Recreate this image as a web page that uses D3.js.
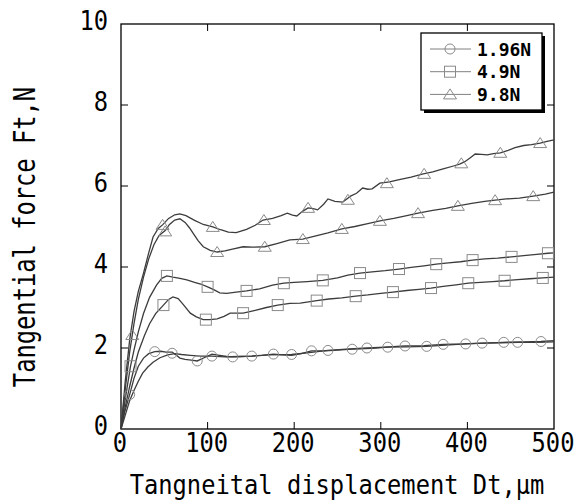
<!DOCTYPE html>
<meta charset="utf-8">
<style>
body { margin: 0; background: white; }
text { font-family: "DejaVu Sans Mono", monospace; fill: black; }
</style>
<body>
<div id="chart"></div>
<script src="https://d3js.org/d3.v7.min.js"></script>
<script>

// curves, [displacement um, force N]
var tri1 = [[0,0],[5,1.2],[10,2.2],[15,2.9],[20,3.4],[26,3.85],[32,4.35],[37,4.74],[43,4.95],[48,5.04],[55,5.2],[62,5.29],[68,5.31],[75,5.27],[85,5.15],[95,5.05],[106,4.99],[115,4.92],[124,4.86],[133,4.85],[145,4.93],[155,5.03],[164,5.16],[175,5.2],[185,5.27],[192,5.33],[198,5.28],[203,5.26],[210,5.38],[216,5.46],[222,5.44],[227,5.41],[234,5.55],[239,5.68],[247,5.62],[256,5.6],[265,5.75],[272,5.82],[279,5.95],[285,5.92],[290,5.93],[299,6.07],[310,6.1],[320,6.15],[335,6.22],[349,6.3],[360,6.35],[372,6.42],[385,6.5],[391,6.54],[397,6.6],[403,6.69],[409,6.79],[416,6.78],[423,6.77],[430,6.8],[438,6.82],[447,6.88],[455,6.95],[465,7.0],[474,7.02],[484,7.06],[492,7.1],[500,7.14]];
var tri2 = [[0,0],[5,1.0],[10,1.9],[15,2.6],[20,3.2],[26,3.75],[32,4.2],[38,4.55],[44,4.78],[51,4.9],[56,5.05],[62,5.16],[68,5.19],[74,5.1],[79,4.97],[83,4.84],[89,4.65],[95,4.5],[103,4.41],[111,4.37],[120,4.4],[130,4.45],[141,4.5],[152,4.49],[166,4.5],[180,4.58],[195,4.67],[210,4.69],[225,4.77],[239,4.84],[255,4.94],[270,5.0],[285,5.07],[299,5.14],[315,5.2],[330,5.27],[343,5.33],[360,5.4],[375,5.45],[389,5.51],[405,5.57],[420,5.62],[432,5.65],[445,5.68],[460,5.7],[476,5.75],[490,5.8],[500,5.85]];
var sq1 = [[0,0],[5,0.75],[11,1.55],[15,1.95],[20,2.4],[26,2.85],[33,3.25],[41,3.55],[47,3.72],[53,3.78],[60,3.75],[68,3.72],[76,3.68],[85,3.62],[92,3.58],[100,3.51],[107,3.44],[114,3.36],[122,3.35],[133,3.38],[145,3.41],[160,3.46],[175,3.55],[188,3.6],[200,3.62],[215,3.64],[233,3.67],[250,3.73],[262,3.8],[276,3.85],[290,3.88],[305,3.91],[321,3.95],[335,3.99],[350,4.03],[364,4.07],[378,4.1],[392,4.13],[406,4.17],[420,4.2],[435,4.22],[451,4.25],[465,4.28],[480,4.31],[493,4.34],[500,4.35]];
var sq2 = [[0,0],[5,0.55],[10,1.05],[15,1.5],[20,1.9],[27,2.3],[33,2.6],[40,2.85],[49,3.06],[55,3.2],[60,3.26],[66,3.22],[72,3.07],[80,2.86],[87,2.77],[95,2.7],[103,2.7],[111,2.72],[119,2.78],[126,2.86],[141,2.86],[155,2.93],[168,3.0],[181,3.06],[195,3.1],[207,3.11],[226,3.17],[240,3.21],[255,3.24],[271,3.28],[285,3.31],[300,3.35],[314,3.38],[330,3.42],[344,3.45],[358,3.48],[372,3.52],[387,3.56],[401,3.6],[415,3.62],[429,3.64],[443,3.66],[458,3.69],[472,3.71],[487,3.73],[500,3.75]];
var ci1 = [[0,0],[4,0.4],[10,0.85],[15,1.25],[20,1.55],[26,1.75],[32,1.86],[39,1.91],[46,1.92],[52,1.9],[59,1.9],[64,1.82],[68,1.75],[74,1.72],[81,1.7],[88,1.68],[96,1.76],[105,1.85],[114,1.82],[122,1.79],[129,1.78],[140,1.79],[151,1.8],[163,1.82],[176,1.85],[187,1.83],[197,1.82],[208,1.86],[220,1.93],[235,1.93],[250,1.95],[267,1.97],[290,1.99],[308,2.02],[330,2.03],[353,2.04],[375,2.07],[398,2.1],[420,2.12],[442,2.14],[465,2.15],[485,2.16],[500,2.18]];
var ci2 = [[0,0],[5,0.35],[10,0.7],[15,0.95],[20,1.18],[25,1.38],[31,1.53],[37,1.65],[45,1.76],[54,1.83],[62,1.86],[70,1.84],[80,1.82],[92,1.8],[105,1.8],[120,1.78],[135,1.79],[151,1.8],[170,1.83],[197,1.84],[215,1.88],[239,1.94],[260,1.97],[284,2.0],[305,2.02],[328,2.05],[350,2.06],[372,2.09],[395,2.1],[417,2.12],[438,2.13],[458,2.14],[480,2.14],[500,2.15]];

// marker positions
var tri1Marks = [[13,2.32],[48,5.04],[106,4.99],[165,5.16],[216,5.46],[262,5.66],[307,6.07],[350,6.3],[393,6.56],[438,6.82],[484,7.06]];
var tri2Marks = [[51,4.88],[111,4.37],[166,4.5],[210,4.69],[255,4.94],[299,5.14],[343,5.33],[389,5.51],[432,5.65],[476,5.75]];
var sq1Marks = [[11,1.55],[53,3.78],[100,3.51],[145,3.41],[188,3.6],[233,3.67],[276,3.85],[321,3.95],[364,4.07],[406,4.17],[451,4.25],[493,4.34]];
var sq2Marks = [[49,3.06],[98,2.7],[141,2.86],[181,3.06],[226,3.17],[271,3.28],[314,3.38],[358,3.48],[401,3.6],[443,3.66],[487,3.73]];
var ci1Marks = [[10,0.85],[39,1.91],[88,1.68],[129,1.78],[176,1.85],[220,1.93],[267,1.97],[308,2.02],[353,2.04],[398,2.1],[442,2.14],[485,2.16]];
var ci2Marks = [[59,1.87],[105,1.8],[151,1.8],[197,1.84],[239,1.94],[284,2.0],[328,2.05],[372,2.09],[417,2.12],[458,2.14]];

var legendLabels = ["1.96N", "4.9N", "9.8N"];
var legendShapes = ["circle", "square", "triangle"];
var xTicks = [0, 100, 200, 300, 400, 500];
var yTicks = [0, 2, 4, 6, 8, 10];

var width = 576, height = 502;
var mLeft = 121, mRight = 554, mTop = 24, mBottom = 429;

var svg = d3.select("#chart").append("svg")
    .attr("width", width)
    .attr("height", height);

var x = d3.scaleLinear().domain([0, 500]).range([mLeft, mRight]);
var y = d3.scaleLinear().domain([0, 10]).range([mBottom, mTop]);

// frame with inward ticks on all four sides
svg.append("rect")
    .attr("x", mLeft).attr("y", mTop)
    .attr("width", mRight - mLeft).attr("height", mBottom - mTop)
    .attr("fill", "none").attr("stroke", "black").attr("stroke-width", 1.3);

var tickLen = 7;
xTicks.slice(1, -1).forEach(function(t) {
    svg.append("line").attr("x1", x(t)).attr("x2", x(t)).attr("y1", mBottom).attr("y2", mBottom - tickLen).attr("stroke", "black");
    svg.append("line").attr("x1", x(t)).attr("x2", x(t)).attr("y1", mTop).attr("y2", mTop + tickLen).attr("stroke", "black");
});
yTicks.slice(1, -1).forEach(function(t) {
    svg.append("line").attr("y1", y(t)).attr("y2", y(t)).attr("x1", mLeft).attr("x2", mLeft + tickLen).attr("stroke", "black");
    svg.append("line").attr("y1", y(t)).attr("y2", y(t)).attr("x1", mRight).attr("x2", mRight - tickLen).attr("stroke", "black");
});

// tick labels
var charW = 14.3;
svg.selectAll("text.xt").data(xTicks).enter().append("text")
    .attr("class", "xt")
    .attr("x", function(d) { return x(d) - 1; })
    .attr("y", 452)
    .attr("text-anchor", "middle")
    .attr("font-size", 27)
    .attr("textLength", function(d) { return String(d).length * charW; })
    .attr("lengthAdjust", "spacingAndGlyphs")
    .text(function(d) { return d; });

svg.selectAll("text.yt").data(yTicks).enter().append("text")
    .attr("class", "yt")
    .attr("x", 108)
    .attr("y", function(d) { return y(d) + 6; })
    .attr("text-anchor", "end")
    .attr("font-size", 27)
    .attr("textLength", function(d) { return String(d).length * charW; })
    .attr("lengthAdjust", "spacingAndGlyphs")
    .text(function(d) { return d; });

// axis titles
var xTitle = "Tangneital displacement Dt,\u03bcm";
svg.append("text")
    .attr("x", 337).attr("y", 494)
    .attr("text-anchor", "middle")
    .attr("font-size", 27)
    .attr("textLength", xTitle.length * charW)
    .attr("lengthAdjust", "spacingAndGlyphs")
    .text(xTitle);

var yTitle = "Tangential force Ft,N";
svg.append("text")
    .attr("transform", "translate(35,237) rotate(-90)")
    .attr("text-anchor", "middle")
    .attr("font-size", 30)
    .attr("textLength", yTitle.length * charW)
    .attr("lengthAdjust", "spacingAndGlyphs")
    .text(yTitle);

// curves
var line = d3.line()
    .x(function(d) { return x(d[0]); })
    .y(function(d) { return y(d[1]); });

var plot = svg.append("g");

[ci1, ci2, sq1, sq2, tri1, tri2].forEach(function(c) {
    plot.append("path")
        .attr("d", line(c))
        .attr("fill", "none")
        .attr("stroke", "#3c3c3c")
        .attr("stroke-width", 1.3);
});

var markColor = "#8a8a8a";
function drawMark(g, shape, px, py) {
    if (shape == "circle") {
        g.append("circle").attr("cx", px).attr("cy", py).attr("r", 5)
            .attr("fill", "none").attr("stroke", markColor);
    } else if (shape == "square") {
        g.append("rect").attr("x", px - 5.5).attr("y", py - 5.5).attr("width", 11).attr("height", 11)
            .attr("fill", "none").attr("stroke", markColor);
    } else {
        g.append("path")
            .attr("d", "M" + px + "," + (py - 5.5) + "L" + (px + 6.5) + "," + (py + 4.5) + "L" + (px - 6.5) + "," + (py + 4.5) + "Z")
            .attr("fill", "none").attr("stroke", markColor);
    }
}

[[ci1Marks, "circle"], [ci2Marks, "circle"], [sq1Marks, "square"], [sq2Marks, "square"], [tri1Marks, "triangle"], [tri2Marks, "triangle"]]
    .forEach(function(s) {
        s[0].forEach(function(d) { drawMark(plot, s[1], x(d[0]), y(d[1])); });
    });

// legend
var lg = svg.append("g");
lg.append("rect").attr("x", 424).attr("y", 36).attr("width", 121).attr("height", 77).attr("fill", "black");
lg.append("rect").attr("x", 421).attr("y", 33).attr("width", 121).attr("height", 77)
    .attr("fill", "white").attr("stroke", "black").attr("stroke-width", 1.3);

legendLabels.forEach(function(lab, i) {
    var ly = 49 + i * 22.7;
    lg.append("line").attr("x1", 430).attr("x2", 471).attr("y1", ly).attr("y2", ly)
        .attr("stroke", "#808080");
    drawMark(lg, legendShapes[i], 450, ly);
    lg.append("text")
        .attr("x", 477).attr("y", ly + 6.5)
        .attr("font-size", 18)
        .attr("font-weight", "bold")
        .text(lab);
});

</script>
</body>
